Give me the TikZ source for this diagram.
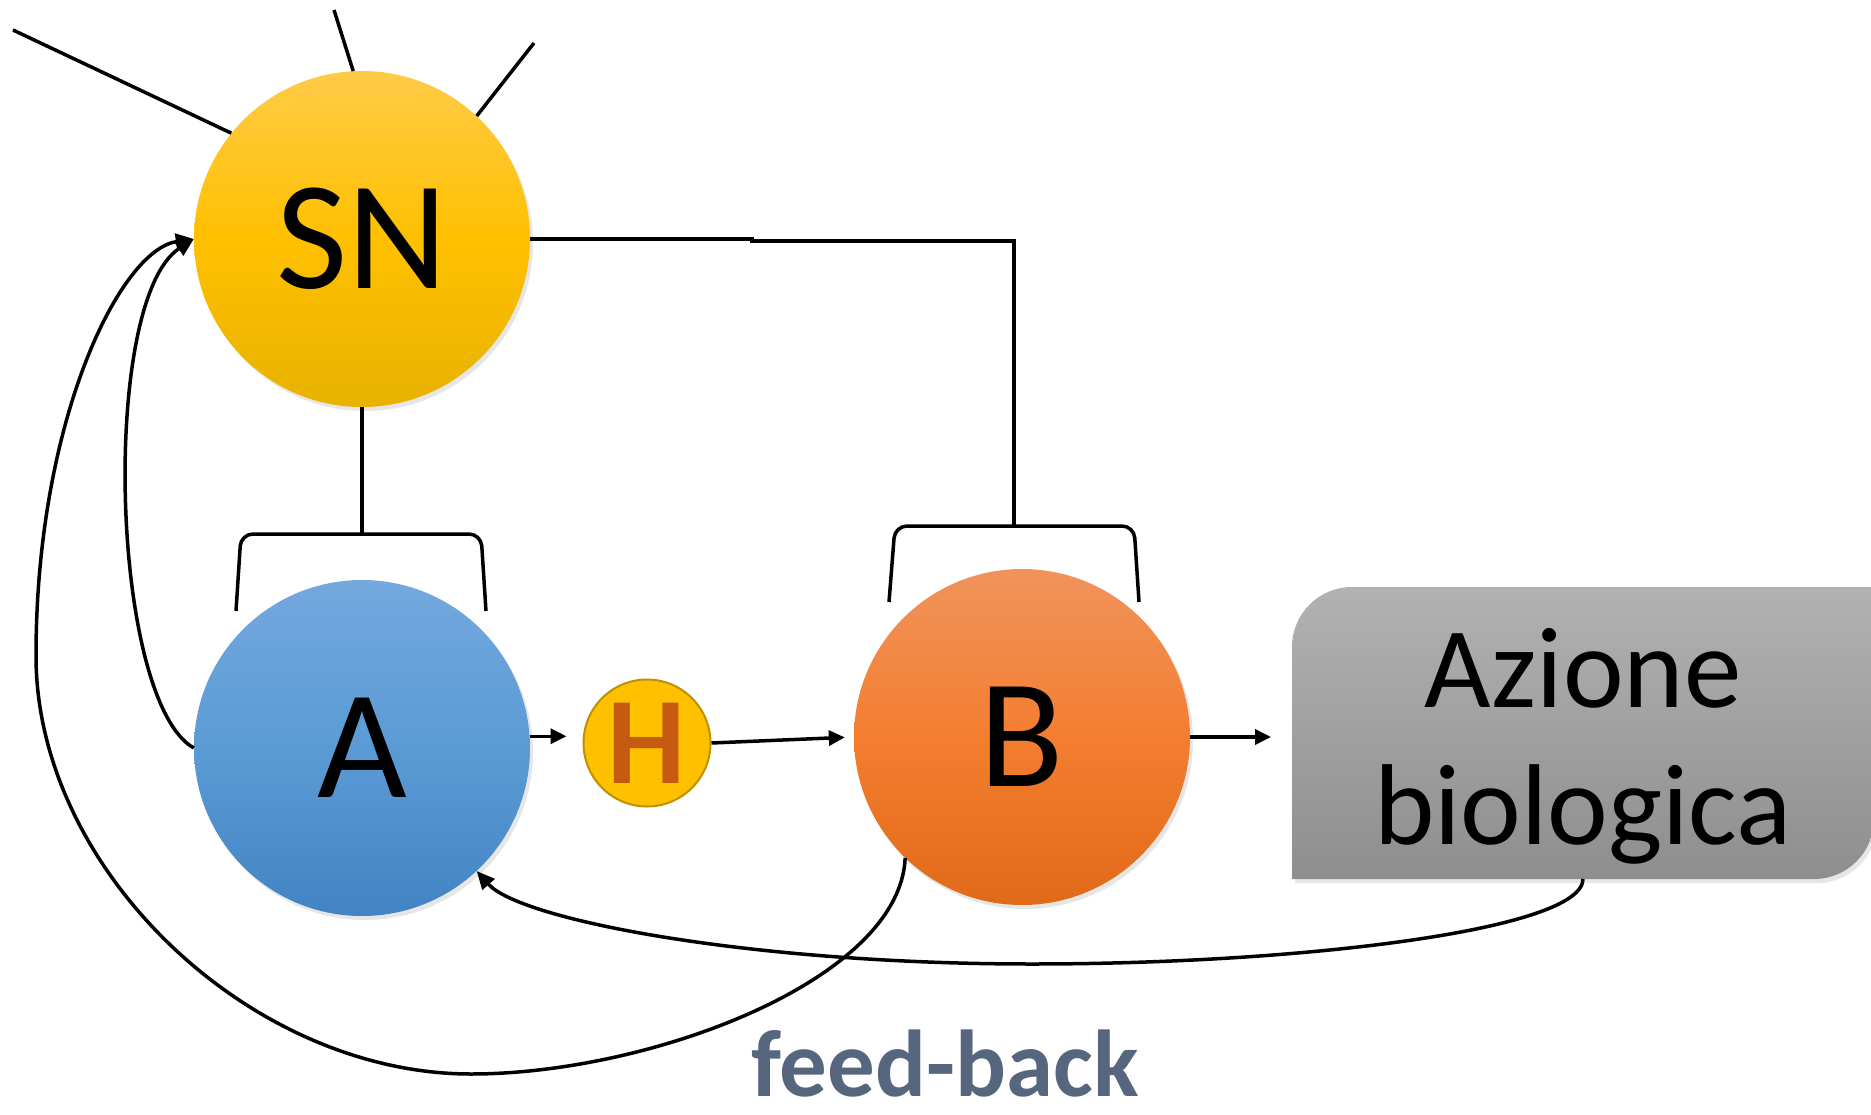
\documentclass[tikz,border=0pt]{standalone}
\usepackage{fontspec}
\setmainfont{Carlito}
\usetikzlibrary{arrows.meta,shadows}

\definecolor{snTop}{HTML}{FFCB48}
\definecolor{snMid}{HTML}{FFC000}
\definecolor{snBot}{HTML}{E8B200}
\definecolor{aTop}{HTML}{74A8DE}
\definecolor{aMid}{HTML}{5B9BD5}
\definecolor{aBot}{HTML}{4283C4}
\definecolor{bTop}{HTML}{F0935C}
\definecolor{bMid}{HTML}{F47E30}
\definecolor{bBot}{HTML}{E06A18}
\definecolor{hFill}{HTML}{FFC000}
\definecolor{hLine}{HTML}{BF9000}
\definecolor{hText}{HTML}{C55A11}
\definecolor{boxTop}{HTML}{B2B2B2}
\definecolor{boxBot}{HTML}{8E8E8E}
\definecolor{fbText}{HTML}{56667E}

\tikzset{
  link/.style={line width=3.5pt},
  arrow/.style={link, -{Triangle[length=16pt,width=15pt]}},
  back/.style={link, -{Triangle[length=18pt,width=16pt]}},
  ball/.style={circle, minimum size=336pt, inner sep=0pt,
    font=\fontsize{155}{155}\selectfont,
    drop shadow={shadow xshift=3pt, shadow yshift=-4pt, opacity=0.2}},
  hball/.style={circle, minimum size=127pt, inner sep=0pt, fill=hFill,
    draw=hLine, line width=2pt, text=hText,
    font=\bfseries\fontsize{124}{124}\selectfont},
}

\begin{document}
\begin{tikzpicture}[x=1pt, y=-1pt]
  \useasboundingbox (0,0) rectangle (1871,1115);

  % SN
  \node[ball, top color=snTop, bottom color=snBot, middle color=snMid] (sn) at (362,239) {SN};

  % A
  \node[ball, top color=aTop, bottom color=aBot, middle color=aMid] (a) at (362,748) {A};

  % B
  \node[ball, top color=bTop, bottom color=bBot, middle color=bMid] (b) at (1022,737) {B};

  % H
  \node[hball] (h) at (647,743) {H};

  % Azione biologica
  \coordinate (boxnw) at (1292,587);
  \coordinate (boxse) at (1874,879);
  \shade[top color=boxTop, bottom color=boxBot,
    drop shadow={shadow xshift=3pt, shadow yshift=-4pt, opacity=0.2}]
    (boxnw |- boxse) -- ([yshift=-60pt]boxnw)
    arc[start angle=180, end angle=90, radius=60pt] -- (boxse |- boxnw)
    -- ([yshift=60pt]boxse) arc[start angle=0, end angle=-90, radius=60pt] -- cycle;
  \node[font=\fontsize{115}{137}\selectfont, align=center] (azione) at (1583,746) {Azione\\biologica};

  % feed-back
  \node[font=\bfseries\fontsize{95}{95}\selectfont, text=fbText, inner sep=0pt] (fb) at (945,1064) {feed-back};

  % SN rays
  \coordinate (ray1) at (13,30);
  \coordinate (ray2) at (334,10);
  \coordinate (ray3) at (534,43);
  \draw[link] (ray1) -- (sn.141);
  \draw[link] (ray2) -- (sn.93);
  \draw[link] (ray3) -- (sn.47);

  % SN -- A
  \coordinate (abrace) at (362,534);
  \draw[link] (sn.south) -- (abrace);
  \draw[link, rounded corners=12pt] (236,611) -- (241,534) -- (481,534) -- (486,611);

  % SN -- B
  \coordinate (bbrace) at (1014,526);
  \draw[link] (sn.east) -- ++(222,0) -- ++(0,2) -| (bbrace);
  \draw[link, rounded corners=12pt] (889,602) -- (895,526) -- (1134,526) -- (1139,602);

  % A -> H -> B -> Azione
  \draw[arrow, shorten >=16pt] (a.4) -- (a.4 -| h.west);
  \draw[arrow, shorten >=9pt] (h.east) -- (b.west);
  \draw[arrow, shorten >=21pt] (b.east) -- (b.east -| boxnw);

  % feed-back loops
  \draw[back] (a.west) .. controls (110,700) and (100,300) .. (sn.west);
  \draw[back] (b.226) .. controls (900,980) and (650,1074) .. (471,1074)
    .. controls (250,1074) and (36,870) .. (36,656)
    .. controls (36,420) and (120,250) .. (sn.west);
  \draw[back] (azione |- boxse) .. controls (1583,930) and (1300,964) .. (1032,964)
    .. controls (750,964) and (520,920) .. (a.313);

\end{tikzpicture}
\end{document}
